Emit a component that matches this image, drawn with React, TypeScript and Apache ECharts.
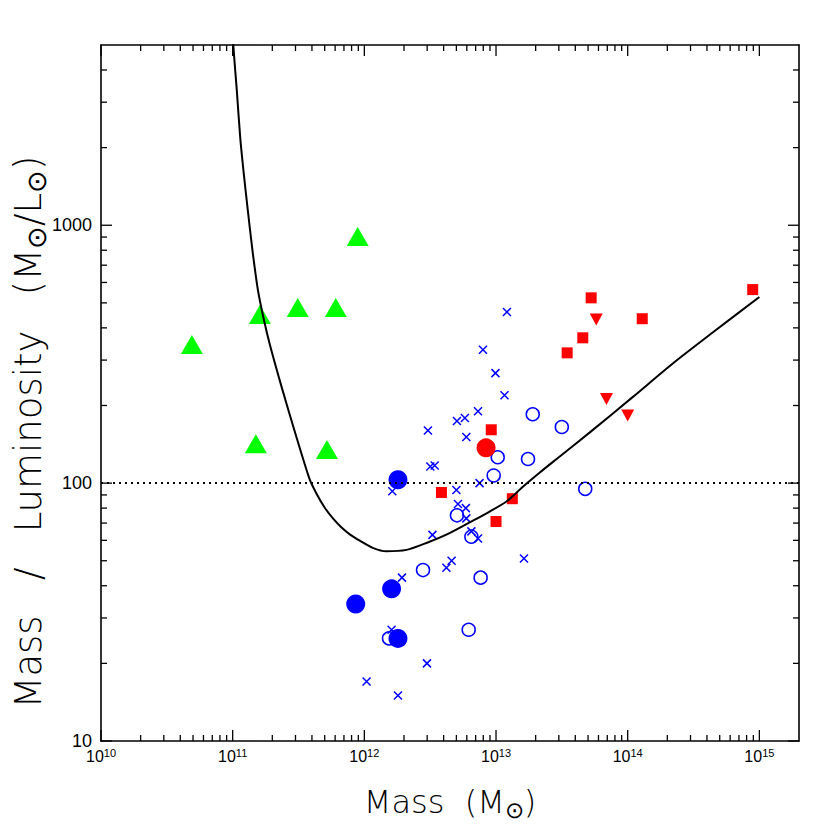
import React, { useEffect, useRef } from "react";
import * as echarts from "echarts";

// Axis ranges and tick layout
const X_MIN = 1e10;
const X_MAX = 2e15;
const Y_MIN = 10;
const Y_MAX = 5000;
const xDecades = [1e10, 1e11, 1e12, 1e13, 1e14, 1e15];
const yDecades = [10, 100, 1000];
const minorMultipliers = [2, 3, 4, 5, 6, 7, 8, 9];

// Data (Mass [Msun], M/L [Msun/Lsun])
const greenTriangles = [
  [4.9e10, 345], [1.61e11, 451], [3.12e11, 480], [6.07e11, 480],
  [8.9e11, 905], [1.5e11, 142], [5.2e11, 135],
];
const blueFilledCircles = [
  [1.8e12, 103], [1.61e12, 38.9], [8.6e11, 34.0], [1.8e12, 25.0],
];
const redFilledCircles = [[8.4e12, 137]];
const blueOpenCircles = [
  [1.9e13, 185], [3.16e13, 165], [1.03e13, 126], [1.75e13, 124],
  [9.6e12, 107], [4.76e13, 95], [5.05e12, 75], [6.5e12, 62],
  [2.79e12, 46], [7.64e12, 43], [6.2e12, 27], [1.54e12, 25],
];
const blueCrosses = [
  [1.16e13, 219], [3.04e12, 160], [5.05e12, 174], [5.8e12, 179],
  [7.3e12, 190], [5.95e12, 151], [3.17e12, 116], [3.42e12, 117],
  [1.63e12, 93], [5.0e12, 94], [7.5e12, 100], [5.14e12, 83],
  [5.9e12, 80], [5.95e12, 73], [6.5e12, 65], [7.3e12, 61],
  [3.29e12, 63], [1.63e13, 51], [4.6e12, 50], [4.2e12, 47],
  [1.93e12, 43], [1.61e12, 27], [2.99e12, 20], [1.04e12, 17],
  [1.8e12, 15], [1.21e13, 461], [7.96e12, 329], [9.9e12, 267],
];
const redSquares = [
  [5.28e13, 523], [1.29e14, 434], [4.56e13, 366], [3.47e13, 320],
  [8.9e14, 563], [9.2e12, 161], [3.85e12, 92], [1.33e13, 87], [1.0e13, 71],
];
const redDownTriangles = [[5.77e13, 431], [6.9e13, 212], [1.0e14, 183]];
const modelCurve = [
  [1.0e11, 6300], [1.012e11, 5000], [1.076e11, 3307], [1.144e11, 2154],
  [1.216e11, 1575], [1.293e11, 1183], [1.411e11, 805], [1.553e11, 563],
  [1.725e11, 431], [1.915e11, 345], [2.362e11, 234.6], [2.965e11, 158.3],
  [3.852e11, 103.1], [4.355e11, 90.6], [5.006e11, 80.3], [5.756e11, 73.1],
  [6.62e11, 67.7], [7.75e11, 63.3], [9.23e11, 59.8], [1.158e12, 56.1],
  [1.47e12, 54.4], [2.09e12, 55.1], [2.96e12, 58.6],
  [4.44e12, 64], [6.68e12, 71.5], [8.94e12, 77.6], [1.2e13, 84.9],
  [1.6e13, 96.8], [2.14e13, 109.7], [2.87e13, 123.8], [5.13e13, 157],
  [1.09e14, 215.5], [2.2e14, 291], [4.42e14, 383.7], [1.0e15, 527],
];
const referenceLevel = 100;

const SUN = "\u2299";
const TITLE_FONT = "DejaVu Sans";
const LABEL_FONT = "Liberation Sans";

function buildXTicks() {
  const out: number[][] = [];
  xDecades.forEach((d) => {
    out.push([d, 100, 1]);
    minorMultipliers.forEach((m) => {
      const v = d * m;
      if (v < X_MAX) out.push([v, 100, 0]);
    });
  });
  return out;
}
function buildYTicks() {
  const out: number[][] = [];
  yDecades.forEach((d) => {
    out.push([1e12, d, 1]);
    minorMultipliers.forEach((m) => {
      const v = d * m;
      if (v < Y_MAX) out.push([1e12, v, 0]);
    });
  });
  return out;
}

const isDecade = (v: number) => {
  const e = Math.log10(v);
  return Math.abs(e - Math.round(e)) < 1e-6;
};

export default function App() {
  const ref = useRef<HTMLDivElement>(null);
  useEffect(() => {
    const chart = echarts.init(ref.current!, null, { renderer: "svg" });
    const axisLine = { show: true, onZero: false, lineStyle: { color: "#000", width: 1.6 } };
    const MAJOR = 11;
    const MINOR = 6;
    const tickStyle = { stroke: "#000", lineWidth: 1.3 };
    const titleRich = (size: number, sub: number) => ({
      t: { fontSize: size, fontFamily: TITLE_FONT, fontWeight: 200, fill: "#000", lineHeight: size + 6, verticalAlign: "middle" },
      u: { fontSize: sub, fontFamily: TITLE_FONT, fontWeight: 200, fill: "#000", lineHeight: size + 6, verticalAlign: "bottom" },
    });
    const option: any = {
      animation: false,
      backgroundColor: "#fff",
      grid: { left: 101, right: 31, top: 45, bottom: 89 },
      xAxis: [
        {
          type: "log", logBase: 10, min: X_MIN, max: X_MAX, position: "bottom",
          axisLine, axisTick: { show: false }, splitLine: { show: false },
          axisLabel: {
            margin: 6,
            formatter: (v: number) => (isDecade(v) ? `{b|10}{s|${Math.round(Math.log10(v))}}` : ""),
            rich: {
              b: { fontSize: 16, fontFamily: LABEL_FONT, color: "#000", lineHeight: 17, verticalAlign: "bottom" },
              s: { fontSize: 11, fontFamily: LABEL_FONT, color: "#000", lineHeight: 11, verticalAlign: "top" },
            },
          },
        },
        {
          type: "log", logBase: 10, min: X_MIN, max: X_MAX, position: "top",
          axisLine, axisTick: { show: false }, splitLine: { show: false }, axisLabel: { show: false },
        },
      ],
      yAxis: [
        {
          type: "log", logBase: 10, min: Y_MIN, max: Y_MAX, position: "left",
          axisLine, axisTick: { show: false }, splitLine: { show: false },
          axisLabel: {
            margin: 9, fontSize: 18, fontFamily: LABEL_FONT, color: "#000",
            formatter: (v: number) => (isDecade(v) ? String(Math.round(v)) : ""),
          },
        },
        {
          type: "log", logBase: 10, min: Y_MIN, max: Y_MAX, position: "right",
          axisLine, axisTick: { show: false }, splitLine: { show: false }, axisLabel: { show: false },
        },
      ],
      graphic: [
        {
          type: "text", x: 450, y: 802,
          style: {
            text: `{t|Mass  (M}{u|${SUN}}{t|)}`,
            align: "center", verticalAlign: "middle",
            rich: titleRich(32, 23),
          },
        },
        {
          type: "text", x: 28, y: 432, rotation: Math.PI / 2,
          style: {
            text: `{t|Mass   /   Luminosity   (M}{u|${SUN}}{t|/L}{u|${SUN}}{t|)}`,
            align: "center", verticalAlign: "middle",
            rich: titleRich(37, 27),
          },
        },
      ],
      series: [
        {
          type: "custom", name: "xticks", silent: true, z: 10,
          data: buildXTicks(), encode: { x: 0, y: 1 },
          renderItem: (params: any, api: any) => {
            const cs = params.coordSys;
            const x = api.coord([api.value(0), 100])[0];
            const len = api.value(2) === 1 ? MAJOR : MINOR;
            const b = cs.y + cs.height;
            return {
              type: "group",
              children: [
                { type: "line", shape: { x1: x, y1: b, x2: x, y2: b - len }, style: tickStyle },
                { type: "line", shape: { x1: x, y1: cs.y, x2: x, y2: cs.y + len }, style: tickStyle },
              ],
            };
          },
        },
        {
          type: "custom", name: "yticks", silent: true, z: 10,
          data: buildYTicks(), encode: { x: 0, y: 1 },
          renderItem: (params: any, api: any) => {
            const cs = params.coordSys;
            const y = api.coord([1e12, api.value(1)])[1];
            const len = api.value(2) === 1 ? MAJOR : MINOR;
            const r = cs.x + cs.width;
            return {
              type: "group",
              children: [
                { type: "line", shape: { x1: cs.x, y1: y, x2: cs.x + len, y2: y }, style: tickStyle },
                { type: "line", shape: { x1: r, y1: y, x2: r - len, y2: y }, style: tickStyle },
              ],
            };
          },
        },
        {
          type: "scatter", data: greenTriangles, symbol: "triangle", symbolSize: [22, 19],
          itemStyle: { color: "#00ff00", opacity: 1 }, z: 2,
        },
        {
          type: "scatter", data: blueOpenCircles, symbol: "circle", symbolSize: 13,
          itemStyle: { color: "rgba(0,0,0,0)", borderColor: "#0000ff", borderWidth: 1.5, opacity: 1 }, z: 2,
        },
        {
          type: "scatter", data: blueCrosses, symbol: "path://M0,0L10,10M10,0L0,10", symbolSize: 8,
          itemStyle: { color: "rgba(0,0,0,0)", borderColor: "#0000ff", borderWidth: 1.5, opacity: 1 }, z: 3,
        },
        {
          type: "scatter", data: blueFilledCircles, symbol: "circle", symbolSize: 19,
          itemStyle: { color: "#0000ff", opacity: 1 }, z: 3,
        },
        {
          type: "scatter", data: redFilledCircles, symbol: "circle", symbolSize: 19,
          itemStyle: { color: "#ff0000", opacity: 1 }, z: 3,
        },
        {
          type: "scatter", data: redSquares, symbol: "rect", symbolSize: 11,
          itemStyle: { color: "#ff0000", opacity: 1 }, z: 3,
        },
        {
          type: "scatter", data: redDownTriangles, symbol: "triangle", symbolRotate: 180, symbolSize: [13, 12],
          itemStyle: { color: "#ff0000", opacity: 1 }, z: 3,
        },
        {
          type: "line", data: modelCurve, symbol: "none", showSymbol: false,
          smooth: 0.25,
          lineStyle: { color: "#000", width: 2 }, z: 4, silent: true,
          markLine: {
            silent: true, symbol: ["none", "none"], label: { show: false },
            lineStyle: { color: "#000", type: [2, 4], width: 2 },
            data: [{ yAxis: referenceLevel }],
          },
        },
      ],
    };
    chart.setOption(option);
    return () => chart.dispose();
  }, []);
  return (
    <div
      ref={ref}
      style={{ position: "fixed", left: 0, top: 0, width: 830, height: 830, background: "#fff" }}
    />
  );
}
